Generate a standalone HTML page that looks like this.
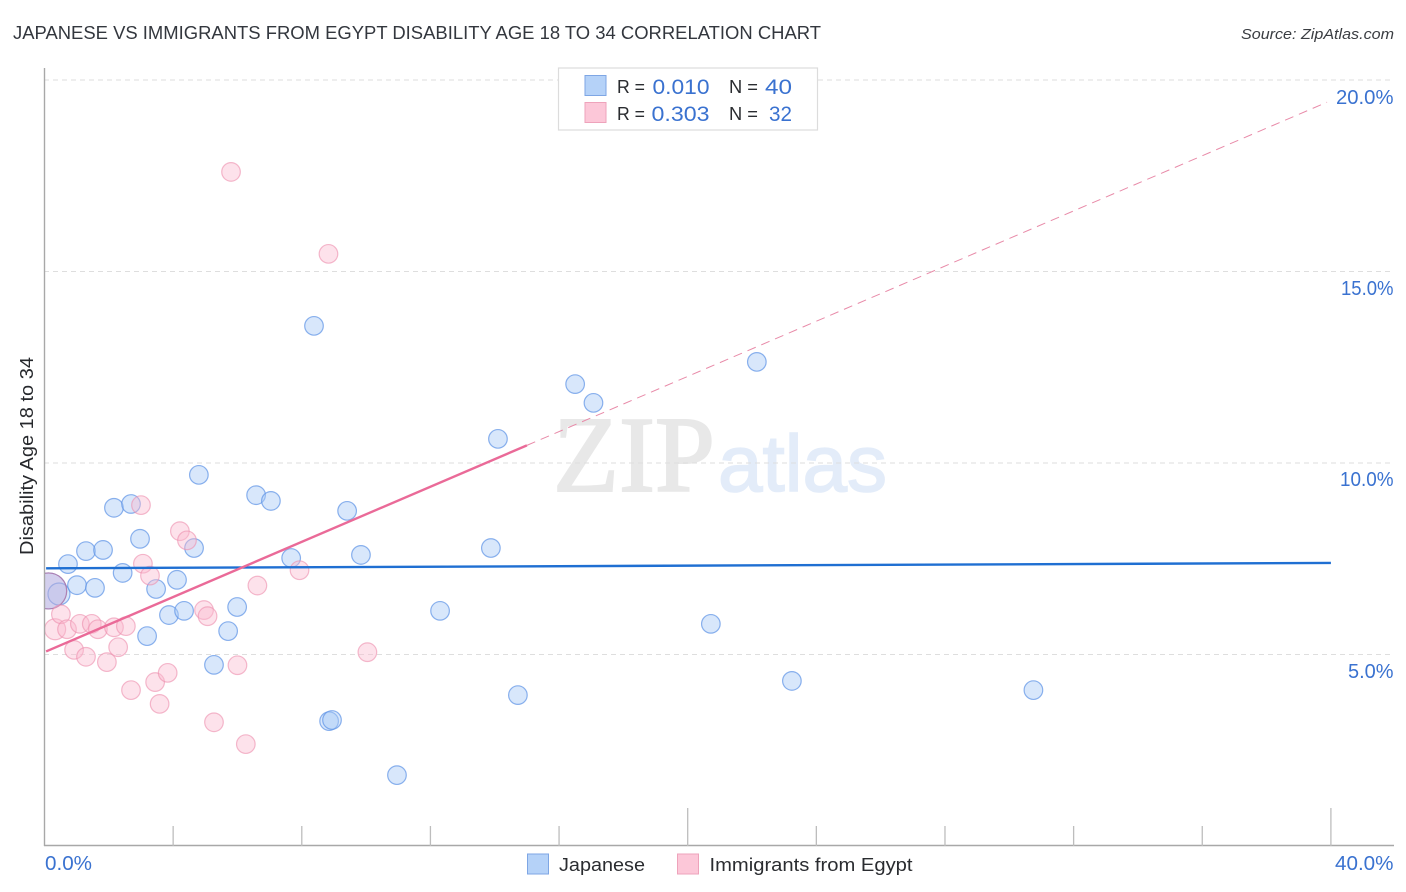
<!DOCTYPE html>
<html lang="en">
<head>
<meta charset="utf-8">
<title>Japanese vs Immigrants from Egypt Disability Age 18 to 34 Correlation Chart</title>
<style>
html,body{margin:0;padding:0;background:#fff;}
svg{display:block;font-family:"Liberation Sans",sans-serif;}
</style>
</head>
<body>
<svg id="chart" xmlns="http://www.w3.org/2000/svg" width="1406" height="892" viewBox="0 0 1406 892">
  <defs>
    <clipPath id="plot-clip"><rect x="45" y="60" width="1349" height="786"/></clipPath>
  </defs>
  <rect x="0" y="0" width="1406" height="892" fill="#fff"/>
  <text x="13" y="39" font-size="18.5" fill="#33373e" textLength="808" lengthAdjust="spacingAndGlyphs">JAPANESE VS IMMIGRANTS FROM EGYPT DISABILITY AGE 18 TO 34 CORRELATION CHART</text>
  <text x="1241" y="39" font-size="15" font-style="italic" fill="#3a3d42" textLength="153" lengthAdjust="spacingAndGlyphs">Source: ZipAtlas.com</text>

  <text x="553" y="491" font-family="'Liberation Serif',serif" font-size="108" fill="#e8e8e8" stroke="#e8e8e8" stroke-width="2" textLength="162" lengthAdjust="spacingAndGlyphs">ZIP</text>
  <text x="718" y="491" font-size="80" fill="#e3ecf9" stroke="#e3ecf9" stroke-width="1.6" textLength="169" lengthAdjust="spacingAndGlyphs">atlas</text>

  <g id="grid"></g>
  <g id="points" clip-path="url(#plot-clip)"></g>
  <g id="trends"></g>
  <g id="axes"></g>
  <g>
    <text x="1348" y="678" font-size="20" fill="#3a72d0" textLength="45.5" lengthAdjust="spacingAndGlyphs">5.0%</text>
    <text x="1340" y="486" font-size="20" fill="#3a72d0" textLength="53.5" lengthAdjust="spacingAndGlyphs">10.0%</text>
    <text x="1341" y="295" font-size="20" fill="#3a72d0" textLength="52.5" lengthAdjust="spacingAndGlyphs">15.0%</text>
    <text x="1336" y="104" font-size="20" fill="#3a72d0" textLength="57.5" lengthAdjust="spacingAndGlyphs">20.0%</text>
    <text x="45" y="870" font-size="20" fill="#3a72d0" textLength="47" lengthAdjust="spacingAndGlyphs">0.0%</text>
    <text x="1335" y="870" font-size="20" fill="#3a72d0" textLength="58.5" lengthAdjust="spacingAndGlyphs">40.0%</text>
  </g>

  <text transform="translate(33,555) rotate(-90)" font-size="18" fill="#26282c" textLength="198" lengthAdjust="spacingAndGlyphs">Disability Age 18 to 34</text>

  <g>
    <rect x="558.5" y="68" width="259" height="62" fill="#fff" stroke="#dcdcdc" stroke-width="1.2"/>
    <rect x="585" y="75.5" width="21" height="20" fill="#b5d2f8" stroke="#7ea6e4" stroke-width="1"/>
    <rect x="585" y="102.5" width="21" height="20" fill="#fcc7d8" stroke="#eea3bb" stroke-width="1"/>
    <text x="617" y="93" font-size="18.5" fill="#2a2c30" textLength="28" lengthAdjust="spacingAndGlyphs">R =</text>
    <text x="652.5" y="94" font-size="21" fill="#3a72d0" textLength="57" lengthAdjust="spacingAndGlyphs">0.010</text>
    <text x="729" y="93" font-size="18.5" fill="#2a2c30" textLength="29" lengthAdjust="spacingAndGlyphs">N =</text>
    <text x="765" y="94" font-size="21" fill="#3a72d0" textLength="27" lengthAdjust="spacingAndGlyphs">40</text>
    <text x="617" y="120" font-size="18.5" fill="#2a2c30" textLength="28" lengthAdjust="spacingAndGlyphs">R =</text>
    <text x="651.5" y="121" font-size="21" fill="#3a72d0" textLength="58" lengthAdjust="spacingAndGlyphs">0.303</text>
    <text x="729" y="120" font-size="18.5" fill="#2a2c30" textLength="29" lengthAdjust="spacingAndGlyphs">N =</text>
    <text x="769" y="121" font-size="21" fill="#3a72d0" textLength="23" lengthAdjust="spacingAndGlyphs">32</text>
  </g>

  <g>
    <rect x="527.5" y="854" width="21" height="20" fill="#b5d2f8" stroke="#7ea6e4" stroke-width="1"/>
    <text x="559" y="871" font-size="18.5" fill="#2a2c30" textLength="86" lengthAdjust="spacingAndGlyphs">Japanese</text>
    <rect x="677.5" y="854" width="21" height="20" fill="#fcc7d8" stroke="#eea3bb" stroke-width="1"/>
    <text x="709.5" y="871" font-size="18.5" fill="#2a2c30" textLength="203" lengthAdjust="spacingAndGlyphs">Immigrants from Egypt</text>
  </g>
</svg>
<script>
const yTicks = [5, 10, 15, 20];
const xTicks = [0, 4, 8, 12, 16, 20, 24, 28, 32, 36, 40];

const japaneseX = [0.13, 0.45, 0.73, 1.01, 1.29, 1.57, 1.82, 2.16, 2.43, 2.69, 2.97, 3.19, 3.47, 3.87, 4.12, 4.34, 4.65, 4.8, 5.27, 5.71, 5.99, 6.58, 7.04, 7.67, 8.38, 8.85, 8.94, 9.41, 9.84, 10.96, 12.3, 13.88, 14.1, 14.72, 16.5, 17.07, 20.72, 22.15, 23.24, 30.75];
const japaneseY = [6.66, 6.58, 7.36, 6.81, 7.7, 6.74, 7.73, 8.83, 7.13, 8.93, 8.02, 5.48, 6.71, 6.03, 6.95, 6.14, 7.78, 9.69, 4.73, 5.61, 6.24, 9.16, 9.01, 7.52, 13.58, 3.26, 3.29, 8.75, 7.6, 1.85, 6.14, 7.78, 10.63, 3.94, 12.06, 11.57, 5.8, 12.64, 4.31, 4.07];
const japaneseSize = [18, 11, 9.3, 9.3, 9.3, 9.3, 9.3, 9.3, 9.3, 9.3, 9.3, 9.3, 9.3, 9.3, 9.3, 9.3, 9.3, 9.3, 9.3, 9.3, 9.3, 9.3, 9.3, 9.3, 9.3, 9.3, 9.3, 9.3, 9.3, 9.3, 9.3, 9.3, 9.3, 9.3, 9.3, 9.3, 9.3, 9.3, 9.3, 9.3];

const egyptX = [0.13, 0.33, 0.51, 0.7, 0.92, 1.1, 1.29, 1.47, 1.66, 1.94, 2.16, 2.29, 2.53, 2.69, 3.0, 3.06, 3.28, 3.44, 3.58, 3.83, 4.21, 4.43, 4.96, 5.07, 5.27, 5.8, 6.0, 6.26, 6.62, 7.93, 8.83, 10.04];
const egyptY = [6.66, 5.66, 6.05, 5.66, 5.12, 5.8, 4.94, 5.8, 5.66, 4.8, 5.71, 5.19, 5.74, 4.07, 8.9, 7.37, 7.06, 4.28, 3.71, 4.52, 8.22, 7.98, 6.16, 6.0, 3.23, 17.6, 4.72, 2.66, 6.8, 7.2, 15.46, 5.06];
const egyptSize = [18, 10.5, 9.3, 9.3, 9.3, 9.3, 9.3, 9.3, 9.3, 9.3, 9.3, 9.3, 9.3, 9.3, 9.3, 9.3, 9.3, 9.3, 9.3, 9.3, 9.3, 9.3, 9.3, 9.3, 9.3, 9.3, 9.3, 9.3, 9.3, 9.3, 9.3, 9.3];

const japaneseTrendX = [0.05, 40];
const japaneseTrendY = [7.25, 7.39];
const egyptSolidX = [0.05, 15.0];
const egyptSolidY = [5.08, 10.46];
const egyptDashX = [15.0, 39.88];
const egyptDashY = [10.46, 19.42];

const xScale = v => 44.5 + v * 32.16;
const yScale = v => 846 - v * 38.3;
const NS = "http://www.w3.org/2000/svg";

function make(tag, parent, props) {
  const el = document.createElementNS(NS, tag);
  for (const k in props) el.setAttribute(k, props[k]);
  parent.appendChild(el);
  return el;
}

const gridG = document.getElementById("grid");
const axesG = document.getElementById("axes");
const pointsG = document.getElementById("points");
const trendsG = document.getElementById("trends");

yTicks.forEach(t => {
  const line = make("line", gridG, {x1: 44, x2: 1394, y1: yScale(t), y2: yScale(t), stroke: "#dedede", "stroke-width": 1, "stroke-dasharray": "5 4"});
  
  
});

const yAxis = make("line", axesG, {x1: 44.5, x2: 44.5, y1: 68, y2: 846, stroke: "#a8a8a8", "stroke-width": 1.4});


const xAxis = make("line", axesG, {x1: 44, x2: 1394, y1: 845.5, y2: 845.5, stroke: "#a8a8a8", "stroke-width": 1.4});



xTicks.forEach(t => {
  if (t === 0) return;
  const top = t % 20 === 0 ? 808 : 826;
  const tick = make("line", axesG, {x1: xScale(t), x2: xScale(t), y1: top, y2: 846, stroke: "#bdbdbd", "stroke-width": 1.3});
  
  
});

japaneseX.forEach((x, i) => {
  const big = japaneseSize[i] > 15;
  const c = make("circle", pointsG, {cx: xScale(x), cy: yScale(japaneseY[i]), r: japaneseSize[i], fill: "#a9c9f6", "fill-opacity": big ? 0.7 : 0.45, stroke: "#5f94e6", "stroke-opacity": 0.72, "stroke-width": 1.2});
  
  
});
egyptX.forEach((x, i) => {
  const big = egyptSize[i] > 15;
  const c = make("circle", pointsG, {cx: xScale(x), cy: yScale(egyptY[i]), r: egyptSize[i], fill: "#fab9cf", "fill-opacity": big ? 0.3 : 0.42, stroke: big ? "#b56a9a" : "#ee8fae", "stroke-opacity": big ? 0.7 : 0.62, "stroke-width": 1.2});
  
  
});

const blueLine = make("line", trendsG, {x1: xScale(japaneseTrendX[0]), y1: yScale(japaneseTrendY[0]), x2: xScale(japaneseTrendX[1]), y2: yScale(japaneseTrendY[1]), stroke: "#1f6fd2", "stroke-width": 2.4});


const pinkSolid = make("line", trendsG, {x1: xScale(egyptSolidX[0]), y1: yScale(egyptSolidY[0]), x2: xScale(egyptSolidX[1]), y2: yScale(egyptSolidY[1]), stroke: "#ea6a98", "stroke-width": 2.4});


const pinkDash = make("line", trendsG, {x1: xScale(egyptDashX[0]), y1: yScale(egyptDashY[0]), x2: xScale(egyptDashX[1]), y2: yScale(egyptDashY[1]), stroke: "#e88aa8", "stroke-width": 1, "stroke-dasharray": "9 6"});


</script>
</body>
</html>
